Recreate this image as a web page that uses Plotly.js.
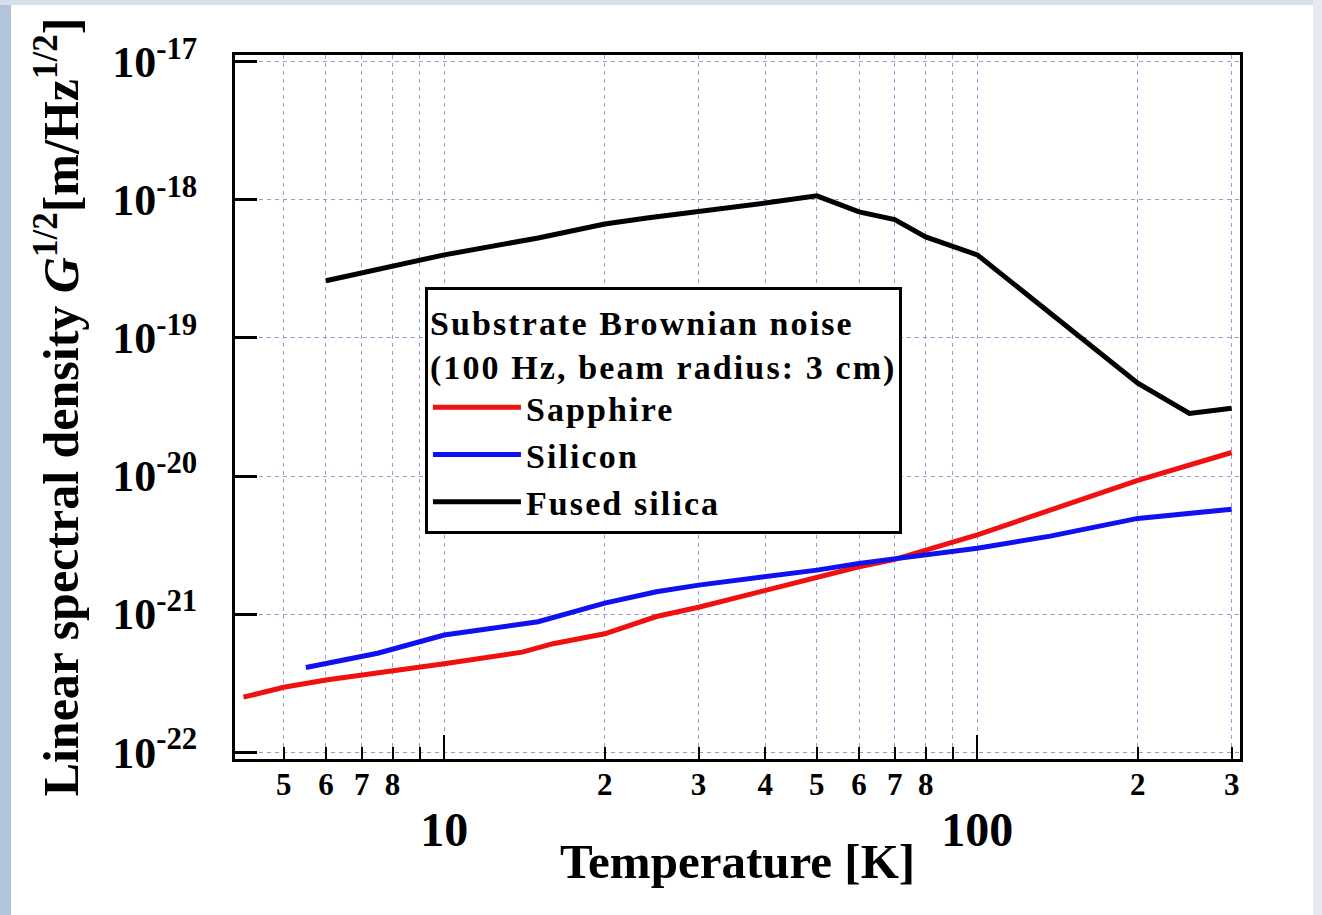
<!DOCTYPE html>
<html>
<head>
<meta charset="utf-8">
<script src="https://cdn.plot.ly/plotly-3.0.1.min.js"></script>
<style>
html,body{margin:0;padding:0;background:#fff;}
#chart{width:1322px;height:915px;}
.legendtext, .legendtitletext{letter-spacing:2.1px;}
</style>
</head>
<body>
<div id="chart"></div>
<script>
// ---- data ----
const sapphireT = [4.2, 5, 6, 7, 8, 10, 14, 16, 20, 25, 30, 40, 50, 60, 70, 80, 100, 200, 300];
const sapphireG = [2.5e-22, 2.95e-22, 3.33e-22, 3.6e-22, 3.9e-22, 4.37e-22, 5.3e-22, 6.1e-22, 7.2e-22, 9.6e-22, 1.12e-21, 1.49e-21, 1.86e-21, 2.2e-21, 2.49e-21, 2.91e-21, 3.75e-21, 9.3e-21, 1.48e-20];

const siliconT = [5.5, 7.5, 10, 15, 20, 25, 30, 40, 50, 60, 70, 90, 100, 137, 200, 300];
const siliconG = [4.1e-22, 5.2e-22, 7.05e-22, 8.8e-22, 1.2e-21, 1.45e-21, 1.62e-21, 1.85e-21, 2.08e-21, 2.33e-21, 2.5e-21, 2.8e-21, 3.0e-21, 3.67e-21, 4.93e-21, 5.75e-21];

const fusedT = [6, 10, 15, 20, 24, 30, 40, 50, 60, 70, 80, 100, 200, 250, 300];
const fusedG = [2.6e-19, 4.0e-19, 5.3e-19, 6.7e-19, 7.4e-19, 8.2e-19, 9.5e-19, 1.07e-18, 8.2e-19, 7.2e-19, 5.4e-19, 4.0e-19, 4.7e-20, 2.84e-20, 3.1e-20];

const seriesNames = ["Sapphire", "Silicon", "Fused silica"];
const legendTitle = "Substrate Brownian noise<br>(100 Hz, beam radius: 3 cm)";

const minorTickVals = [5, 6, 7, 8, 9, 20, 30, 40, 50, 60, 70, 80, 90, 200, 300];
const minorTickText = ["5", "6", "7", "8", "", "2", "3", "4", "5", "6", "7", "8", "", "2", "3"];
const majorTickVals = [10, 100];
const majorTickText = ["10", "100"];
const yTickVals = [1e-22, 1e-21, 1e-20, 1e-19, 1e-18, 1e-17];
const yTickText = ["10<sup>-22</sup>", "10<sup>-21</sup>", "10<sup>-20</sup>", "10<sup>-19</sup>", "10<sup>-18</sup>", "10<sup>-17</sup>"];
const xRange = [4.05, 311];
const yRange = [-22.05, -16.95];

// ---- drawing ----
const FONT = "Liberation Serif, Times New Roman, serif";
const GRID = "#9a9ad2";

const traces = [
  {x: sapphireT, y: sapphireG, name: seriesNames[0], mode: "lines", line: {color: "#f01010", width: 5}},
  {x: siliconT, y: siliconG, name: seriesNames[1], mode: "lines", line: {color: "#1010f0", width: 5}},
  {x: fusedT, y: fusedG, name: seriesNames[2], mode: "lines", xaxis: "x2", line: {color: "#000000", width: 5}}
];

const layout = {
  width: 1322, height: 915,
  margin: {l: 235, r: 82, t: 55, b: 156},
  paper_bgcolor: "#ffffff",
  plot_bgcolor: "#ffffff",
  font: {family: FONT, color: "#000", weight: "bold"},
  showlegend: true,
  legend: {
    x: 0.189, y: 0.670, xanchor: "left", yanchor: "top",
    bgcolor: "#ffffff", bordercolor: "#000", borderwidth: 3,
    itemwidth: 88,
    font: {family: FONT, size: 34, color: "#000", weight: "bold"},
    title: {text: legendTitle, font: {family: FONT, size: 34, color: "#000", weight: "bold"}},
    tracegroupgap: 0
  },
  xaxis: {
    type: "log",
    range: [Math.log10(xRange[0]), Math.log10(xRange[1])],
    tickmode: "array", tickvals: minorTickVals, ticktext: minorTickText,
    ticks: "inside", ticklen: 12, tickwidth: 2, tickcolor: "#000",
    tickfont: {family: FONT, size: 31, color: "#000", weight: "bold"},
    ticklabelstandoff: -4,
    showgrid: true, gridcolor: GRID, gridwidth: 1, griddash: "4px,4px",
    showline: true, linecolor: "#000", linewidth: 3, mirror: true,
    zeroline: false,
    title: {text: "Temperature [K]", font: {family: FONT, size: 49, color: "#000", weight: "bold"}, standoff: 43}
  },
  xaxis2: {
    type: "log", overlaying: "x", anchor: "y", side: "bottom",
    range: [Math.log10(xRange[0]), Math.log10(xRange[1])],
    tickmode: "array", tickvals: majorTickVals, ticktext: majorTickText,
    ticks: "inside", ticklen: 24, tickwidth: 2, tickcolor: "#000",
    tickfont: {family: FONT, size: 48, color: "#000", weight: "bold"},
    ticklabelstandoff: 38,
    showgrid: true, gridcolor: GRID, gridwidth: 1, griddash: "4px,4px",
    showline: false, zeroline: false
  },
  yaxis: {
    type: "log",
    range: yRange,
    tickmode: "array", tickvals: yTickVals, ticktext: yTickText,
    ticks: "inside", ticklen: 22, tickwidth: 3, tickcolor: "#000",
    tickfont: {family: FONT, size: 44, color: "#000", weight: "bold"},
    ticklabelstandoff: 26,
    showgrid: true, gridcolor: GRID, gridwidth: 1, griddash: "4px,4px",
    showline: true, linecolor: "#000", linewidth: 3, mirror: true,
    zeroline: false,
    title: {text: "Linear spectral density <i>G</i><sup>1/2</sup>[m/Hz<sup>1/2</sup>]", font: {family: FONT, size: 50, color: "#000", weight: "bold"}, standoff: 18}
  },
  shapes: [
    {type: "rect", xref: "paper", yref: "paper", x0: -235/1005, x1: -224/1005, y0: -156/704, y1: 760/704, line: {width: 0}, fillcolor: "#b2c4da", layer: "below"},
    {type: "rect", xref: "paper", yref: "paper", x0: -235/1005, x1: 1087/1005, y0: 754/704, y1: 760/704, line: {width: 0}, fillcolor: "#d6dee9", layer: "below"},
    {type: "rect", xref: "paper", yref: "paper", x0: 1078/1005, x1: 1087/1005, y0: -156/704, y1: 760/704, line: {width: 0}, fillcolor: "#e6ebf2", layer: "below"}
  ]
};

Plotly.newPlot("chart", traces, layout, {displayModeBar: false, staticPlot: true});
</script>
</body>
</html>
